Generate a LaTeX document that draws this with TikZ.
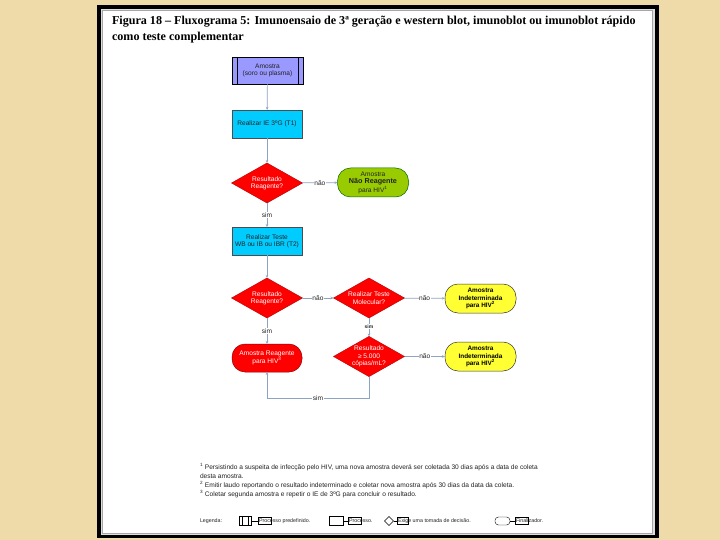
\documentclass[tikz,border=0pt]{standalone}
\usepackage{fontspec}
\setmainfont{Liberation Serif}
\setsansfont{Liberation Sans}
\usetikzlibrary{shapes.geometric,arrows.meta}
\definecolor{bgbeige}{HTML}{EEDBA9}
\definecolor{lav}{HTML}{9999FF}
\definecolor{cyanbox}{HTML}{00CCFF}
\definecolor{redbox}{HTML}{FF0000}
\definecolor{greenbox}{HTML}{99CC00}
\definecolor{yellowbox}{HTML}{FFFF33}
\definecolor{conn}{HTML}{8CA4C4}
\definecolor{txt}{HTML}{222222}
\begin{document}
\begin{tikzpicture}[x=1pt,y=-1pt,
  every node/.style={inner sep=0pt, outer sep=0pt},
  dtext/.style={font=\sffamily\fontsize{6.6}{7.4}\selectfont, align=center},
  procbox/.style={dtext, rectangle, draw=gray!60!black, line width=0.4pt, fill=cyanbox, minimum width=70pt, minimum height=28pt, text=txt},
  predef/.style={dtext, rectangle, draw=black, line width=0.6pt, fill=lav, minimum width=71pt, minimum height=27pt, text=txt},
  decbox/.style={dtext, diamond, aspect=1.75, fill=redbox, draw=red!70!black, line width=0.4pt, minimum width=71pt, minimum height=40pt, text=white},
  termbox/.style={dtext, rectangle, rounded corners=13pt, line width=0.5pt, minimum width=71pt, minimum height=29pt},
  conline/.style={draw=conn, line width=0.7pt},
  conarrow/.style={conline, -{Stealth[length=3pt,width=2.5pt]}},
  clabel/.style={dtext, fill=white, inner sep=0.6pt, text=txt},
  foot/.style={font=\sffamily\fontsize{6.6}{7.4}\selectfont, anchor=west, text=txt},
  legtxt/.style={font=\sffamily\fontsize{5.3}{6}\selectfont, text=txt}
]
\useasboundingbox (0,0) rectangle (720,540);
% slide background and frame
\fill[bgbeige] (0,0) rectangle (720,540);
\fill[black] (97,5) rectangle (659,538);
\fill[gray!25] (101,9) rectangle (655,535);
\fill[gray!70] (102,10) rectangle (653,534);
\fill[white] (103,11) rectangle (652,533);

% title
\node[anchor=north west, align=left, font=\bfseries\fontsize{12.1}{16.5}\selectfont, text=black] (title) at (112,16)
 {Figura 18 -- Fluxograma 5: Imunoensaio de 3ª geração e western blot, imunoblot ou imunoblot rápido\\como teste complementar};

% nodes
\node[predef] (n1) at (267.5,70.5) {Amostra\\(soro ou plasma)};
\draw[line width=0.6pt] ([xshift=5pt]n1.north west) -- ([xshift=5pt]n1.south west);
\draw[line width=0.6pt] ([xshift=-5pt]n1.north east) -- ([xshift=-5pt]n1.south east);
\node[procbox] (n2) at (267,124) {Realizar IE 3ºG (T1)};
\node[decbox] (d1) at (267,183) {Resultado\\Reagente?};
\node[termbox, fill=greenbox, draw=green!40!black, text=txt] (t1) at (373,182.5)
  {Amostra\\{\bfseries\fontsize{7.2}{8.2}\selectfont Não Reagente}\\para HIV\textsuperscript{1}};
\node[procbox] (n3) at (267,241) {Realizar Teste\\WB ou IB ou IBR (T2)};
\node[decbox] (d2) at (267,298) {Resultado\\Reagente?};
\node[decbox] (d3) at (369,298) {Realizar Teste\\Molecular?};
\node[termbox, fill=yellowbox, draw=black!80, text=black, font=\sffamily\bfseries\fontsize{6.4}{7.4}\selectfont] (t2) at (480.5,298.5)
  {Amostra\\Indeterminada\\para HIV\textsuperscript{2}};
\node[decbox] (d4) at (369,356.5) {Resultado\\≥ 5.000\\cópias/mL?};
\node[termbox, fill=yellowbox, draw=black!80, text=black, font=\sffamily\bfseries\fontsize{6.4}{7.4}\selectfont] (t3) at (480.5,356.5)
  {Amostra\\Indeterminada\\para HIV\textsuperscript{2}};
\node[termbox, fill=redbox, draw=red!55!black, text=white, minimum width=70pt, minimum height=28pt] (t4) at (267,358)
  {Amostra Reagente\\para HIV\textsuperscript{3}};
\coordinate (c1) at (369,398);
\coordinate (c2) at (267,398);

% connectors
\draw[conarrow] (n1) -- (n2);
\draw[conarrow] (n2) -- (d1);
\draw[conarrow] (d1) -- node[clabel] {não} (t1);
\draw[conarrow] (d1) -- node[clabel] {sim} (n3);
\draw[conarrow] (n3) -- (d2);
\draw[conarrow] (d2) -- node[clabel] {não} (d3);
\draw[conarrow] (d3) -- node[clabel] {não} (t2);
\draw[conarrow] (d3) -- node[clabel, font=\sffamily\bfseries\fontsize{5}{5.5}\selectfont, pos=0.45] {sim} (d4);
\draw[conarrow] (d2) -- node[clabel] {sim} (t4);
\draw[conarrow] (d4) -- node[clabel] {não} (t3);
\draw[conline] (d4.south) -- (c1) -- node[clabel, pos=0.5] {sim} (c2);
\draw[conarrow] (c2) -- (t4.south);

% footnotes
\node[foot] (f1) at (200,467) {\textsuperscript{1} Persistindo a suspeita de infecção pelo HIV, uma nova amostra deverá ser coletada 30 dias após a data de coleta};
\node[foot] (f1b) at (200,476) {desta amostra.};
\node[foot] (f2) at (200,485.5) {\textsuperscript{2} Emitir laudo reportando o resultado indeterminado e coletar nova amostra após 30 dias da data da coleta.};
\node[foot] (f3) at (200,494.5) {\textsuperscript{3} Coletar segunda amostra e repetir o IE de 3ºG para concluir o resultado.};

% legend
\node[legtxt, anchor=west] (lg) at (200,521) {Legenda:};
\node[rectangle, draw=black, line width=0.4pt, minimum width=12pt, minimum height=9pt] (s1) at (245,521) {};
\draw[line width=0.4pt] ([xshift=3pt]s1.north west) -- ([xshift=3pt]s1.south west);
\draw[line width=0.4pt] ([xshift=-3pt]s1.north east) -- ([xshift=-3pt]s1.south east);
\node[legtxt, anchor=west] (l1) at (259,521) {Processo predefinido.};
\draw[line width=0.3pt] ([xshift=-1pt,yshift=3.5pt]l1.west) rectangle ++(13,7);
\draw[line width=0.3pt] (s1.east) -- ([xshift=-1pt]l1.west);

\node[rectangle, draw=black, line width=0.4pt, minimum width=14pt, minimum height=9pt] (s2) at (336,521) {};
\node[legtxt, anchor=west] (l2) at (349,521) {Processo.};
\draw[line width=0.3pt] ([xshift=-1pt,yshift=3.5pt]l2.west) rectangle ++(13,7);
\draw[line width=0.3pt] (s2.east) -- ([xshift=-1pt]l2.west);

\node[diamond, draw=black, line width=0.4pt, minimum width=9pt, minimum height=9pt] (s3) at (389,521) {};
\node[legtxt, anchor=west] (l3) at (398,521) {Exige uma tomada de decisão.};
\draw[line width=0.3pt] ([xshift=-1pt,yshift=3.5pt]l3.west) rectangle ++(11,7);
\draw[line width=0.3pt] (s3.east) -- ([xshift=-1pt]l3.west);

\node[rectangle, rounded corners=3.5pt, draw=black, line width=0.4pt, minimum width=15pt, minimum height=8pt] (s4) at (502.5,521) {};
\node[legtxt, anchor=west] (l4) at (516,521) {Finalizador.};
\draw[line width=0.3pt] ([xshift=-1pt,yshift=3.5pt]l4.west) rectangle ++(13,7);
\draw[line width=0.3pt] (s4.east) -- ([xshift=-1pt]l4.west);
\end{tikzpicture}
\end{document}
